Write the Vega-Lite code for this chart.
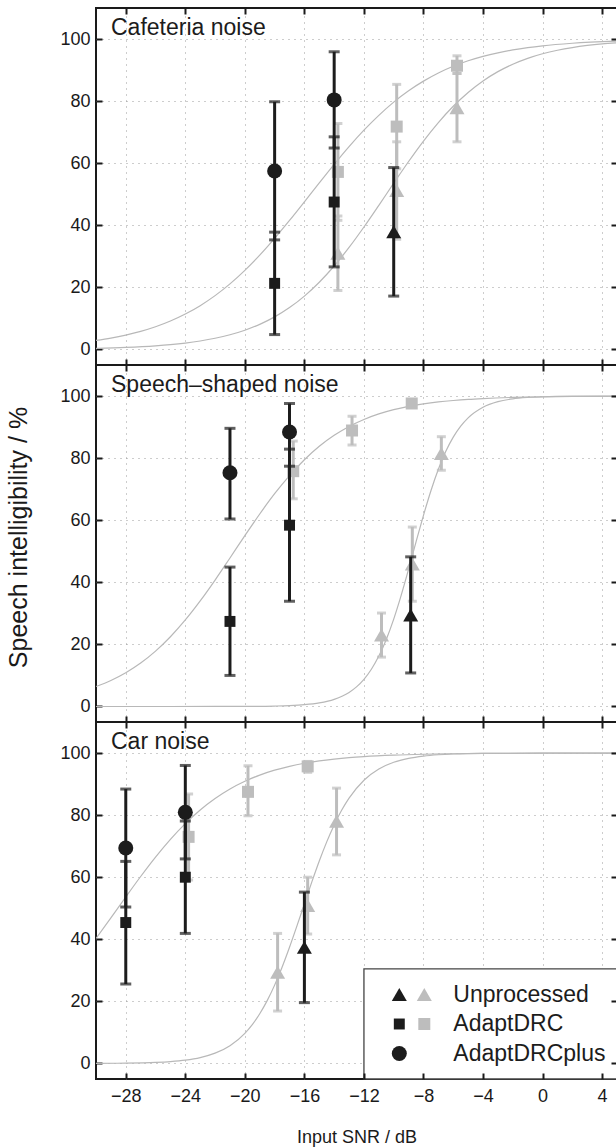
{
  "$schema": "https://vega.github.io/schema/vega-lite/v6.json",
  "background": "white",
  "padding": {"left": 5, "top": 6, "right": -3, "bottom": 0},
  "spacing": 0,
  "bounds": "flush",
  "config": {
    "font": "Liberation Sans",
    "view": {"stroke": "#1a1a1a", "strokeWidth": 2},
    "axis": {
      "domain": false, "tickColor": "#1a1a1a", "tickWidth": 2, "tickSize": -6,
      "labelFont": "Liberation Sans", "labelFontSize": 18, "labelColor": "#1a1a1a",
      "titleFont": "Liberation Sans", "titleFontWeight": "normal", "titleColor": "#1a1a1a",
      "gridColor": "#9a9a9a", "gridDash": [1, 5], "gridWidth": 1
    }
  },
  "datasets": {
    "pts": [
      {"panel": "caf", "grp": "gray", "cond": "Unprocessed", "snr": -13.75, "si": 31, "lo": 19, "hi": 43},
      {"panel": "caf", "grp": "gray", "cond": "AdaptDRC", "snr": -13.75, "si": 57.2, "lo": 41.6, "hi": 72.8},
      {"panel": "caf", "grp": "gray", "cond": "Unprocessed", "snr": -9.8, "si": 51.2, "lo": 35.5, "hi": 66.9},
      {"panel": "caf", "grp": "gray", "cond": "AdaptDRC", "snr": -9.8, "si": 71.8, "lo": 58.2, "hi": 85.4},
      {"panel": "caf", "grp": "gray", "cond": "Unprocessed", "snr": -5.75, "si": 77.9, "lo": 66.9, "hi": 88.9},
      {"panel": "caf", "grp": "gray", "cond": "AdaptDRC", "snr": -5.75, "si": 91.4, "lo": 88.9, "hi": 94.6},
      {"panel": "caf", "grp": "black", "cond": "AdaptDRCplus", "snr": -18, "si": 57.5, "lo": 35.3, "hi": 79.8},
      {"panel": "caf", "grp": "black", "cond": "AdaptDRC", "snr": -18, "si": 21.3, "lo": 4.8, "hi": 37.8},
      {"panel": "caf", "grp": "black", "cond": "AdaptDRCplus", "snr": -14, "si": 80.4, "lo": 64.9, "hi": 95.9},
      {"panel": "caf", "grp": "black", "cond": "AdaptDRC", "snr": -14, "si": 47.5, "lo": 26.6, "hi": 68.5},
      {"panel": "caf", "grp": "black", "cond": "Unprocessed", "snr": -10, "si": 37.9, "lo": 17.2, "hi": 58.6},

      {"panel": "ssn", "grp": "gray", "cond": "AdaptDRC", "snr": -16.75, "si": 75.8, "lo": 66.9, "hi": 85.5},
      {"panel": "ssn", "grp": "gray", "cond": "AdaptDRC", "snr": -12.8, "si": 88.9, "lo": 84.2, "hi": 93.5},
      {"panel": "ssn", "grp": "gray", "cond": "AdaptDRC", "snr": -8.79, "si": 97.6, "lo": 96.5, "hi": 98.7},
      {"panel": "ssn", "grp": "gray", "cond": "Unprocessed", "snr": -10.82, "si": 23, "lo": 15.9, "hi": 30.1},
      {"panel": "ssn", "grp": "gray", "cond": "Unprocessed", "snr": -8.75, "si": 45.9, "lo": 33.9, "hi": 57.8},
      {"panel": "ssn", "grp": "gray", "cond": "Unprocessed", "snr": -6.8, "si": 81.5, "lo": 76.1, "hi": 86.9},
      {"panel": "ssn", "grp": "black", "cond": "AdaptDRCplus", "snr": -21, "si": 75.3, "lo": 60.4, "hi": 89.6},
      {"panel": "ssn", "grp": "black", "cond": "AdaptDRC", "snr": -21, "si": 27.4, "lo": 10, "hi": 44.9},
      {"panel": "ssn", "grp": "black", "cond": "AdaptDRCplus", "snr": -17, "si": 88.4, "lo": 77.4, "hi": 97.6},
      {"panel": "ssn", "grp": "black", "cond": "AdaptDRC", "snr": -17, "si": 58.4, "lo": 33.9, "hi": 82.9},
      {"panel": "ssn", "grp": "black", "cond": "Unprocessed", "snr": -8.86, "si": 29.5, "lo": 10.8, "hi": 48.2},

      {"panel": "car", "grp": "gray", "cond": "AdaptDRC", "snr": -23.78, "si": 73, "lo": 59.1, "hi": 86.8},
      {"panel": "car", "grp": "gray", "cond": "AdaptDRC", "snr": -19.79, "si": 87.5, "lo": 79.8, "hi": 95.9},
      {"panel": "car", "grp": "gray", "cond": "AdaptDRC", "snr": -15.78, "si": 95.7, "lo": 93.8, "hi": 97.3},
      {"panel": "car", "grp": "gray", "cond": "Unprocessed", "snr": -17.8, "si": 29.4, "lo": 16.9, "hi": 41.9},
      {"panel": "car", "grp": "gray", "cond": "Unprocessed", "snr": -15.78, "si": 50.9, "lo": 41.7, "hi": 60},
      {"panel": "car", "grp": "gray", "cond": "Unprocessed", "snr": -13.84, "si": 78, "lo": 67.2, "hi": 88.7},
      {"panel": "car", "grp": "black", "cond": "AdaptDRCplus", "snr": -28, "si": 69.4, "lo": 50.4, "hi": 88.4},
      {"panel": "car", "grp": "black", "cond": "AdaptDRC", "snr": -28, "si": 45.4, "lo": 25.6, "hi": 65.1},
      {"panel": "car", "grp": "black", "cond": "AdaptDRCplus", "snr": -24, "si": 80.9, "lo": 65.9, "hi": 96},
      {"panel": "car", "grp": "black", "cond": "AdaptDRC", "snr": -24, "si": 60, "lo": 41.9, "hi": 78.1},
      {"panel": "car", "grp": "black", "cond": "Unprocessed", "snr": -16, "si": 37.4, "lo": 19.6, "hi": 55.2}
    ],
    "curves": [
      {"panel": "caf", "curve": "A", "snr": -30, "si": 2.90}, {"panel": "caf", "curve": "A", "snr": -29, "si": 3.67},
      {"panel": "caf", "curve": "A", "snr": -28, "si": 4.64}, {"panel": "caf", "curve": "A", "snr": -27, "si": 5.84},
      {"panel": "caf", "curve": "A", "snr": -26, "si": 7.33}, {"panel": "caf", "curve": "A", "snr": -25, "si": 9.17},
      {"panel": "caf", "curve": "A", "snr": -24, "si": 11.42}, {"panel": "caf", "curve": "A", "snr": -23, "si": 14.12},
      {"panel": "caf", "curve": "A", "snr": -22, "si": 17.35}, {"panel": "caf", "curve": "A", "snr": -21, "si": 21.13},
      {"panel": "caf", "curve": "A", "snr": -20, "si": 25.48}, {"panel": "caf", "curve": "A", "snr": -19, "si": 30.38},
      {"panel": "caf", "curve": "A", "snr": -18, "si": 35.78}, {"panel": "caf", "curve": "A", "snr": -17, "si": 41.55},
      {"panel": "caf", "curve": "A", "snr": -16, "si": 47.55}, {"panel": "caf", "curve": "A", "snr": -15, "si": 53.65},
      {"panel": "caf", "curve": "A", "snr": -14, "si": 59.63}, {"panel": "caf", "curve": "A", "snr": -13, "si": 65.34},
      {"panel": "caf", "curve": "A", "snr": -12, "si": 70.64}, {"panel": "caf", "curve": "A", "snr": -11, "si": 75.42},
      {"panel": "caf", "curve": "A", "snr": -10, "si": 79.68}, {"panel": "caf", "curve": "A", "snr": -9, "si": 83.33},
      {"panel": "caf", "curve": "A", "snr": -8, "si": 86.44}, {"panel": "caf", "curve": "A", "snr": -7, "si": 89.07},
      {"panel": "caf", "curve": "A", "snr": -6, "si": 91.22}, {"panel": "caf", "curve": "A", "snr": -5, "si": 92.99},
      {"panel": "caf", "curve": "A", "snr": -4, "si": 94.42}, {"panel": "caf", "curve": "A", "snr": -3, "si": 95.57},
      {"panel": "caf", "curve": "A", "snr": -2, "si": 96.50}, {"panel": "caf", "curve": "A", "snr": -1, "si": 97.24},
      {"panel": "caf", "curve": "A", "snr": 0, "si": 97.83}, {"panel": "caf", "curve": "A", "snr": 2, "si": 98.65},
      {"panel": "caf", "curve": "A", "snr": 5, "si": 99.35},

      {"panel": "caf", "curve": "B", "snr": -30, "si": 0.38}, {"panel": "caf", "curve": "B", "snr": -28, "si": 0.67},
      {"panel": "caf", "curve": "B", "snr": -26, "si": 1.18}, {"panel": "caf", "curve": "B", "snr": -25, "si": 1.56},
      {"panel": "caf", "curve": "B", "snr": -24, "si": 2.07}, {"panel": "caf", "curve": "B", "snr": -23, "si": 2.74},
      {"panel": "caf", "curve": "B", "snr": -22, "si": 3.61}, {"panel": "caf", "curve": "B", "snr": -21, "si": 4.74},
      {"panel": "caf", "curve": "B", "snr": -20, "si": 6.21}, {"panel": "caf", "curve": "B", "snr": -19, "si": 8.10},
      {"panel": "caf", "curve": "B", "snr": -18, "si": 10.50}, {"panel": "caf", "curve": "B", "snr": -17, "si": 13.50},
      {"panel": "caf", "curve": "B", "snr": -16, "si": 17.20}, {"panel": "caf", "curve": "B", "snr": -15, "si": 21.66},
      {"panel": "caf", "curve": "B", "snr": -14, "si": 26.89}, {"panel": "caf", "curve": "B", "snr": -13, "si": 32.86},
      {"panel": "caf", "curve": "B", "snr": -12, "si": 39.45}, {"panel": "caf", "curve": "B", "snr": -11, "si": 46.44},
      {"panel": "caf", "curve": "B", "snr": -10, "si": 53.56}, {"panel": "caf", "curve": "B", "snr": -9, "si": 60.55},
      {"panel": "caf", "curve": "B", "snr": -8, "si": 67.14}, {"panel": "caf", "curve": "B", "snr": -7, "si": 73.11},
      {"panel": "caf", "curve": "B", "snr": -6, "si": 78.34}, {"panel": "caf", "curve": "B", "snr": -5, "si": 82.80},
      {"panel": "caf", "curve": "B", "snr": -4, "si": 86.50}, {"panel": "caf", "curve": "B", "snr": -3, "si": 89.50},
      {"panel": "caf", "curve": "B", "snr": -2, "si": 91.90}, {"panel": "caf", "curve": "B", "snr": -1, "si": 93.79},
      {"panel": "caf", "curve": "B", "snr": 0, "si": 95.26}, {"panel": "caf", "curve": "B", "snr": 1, "si": 96.39},
      {"panel": "caf", "curve": "B", "snr": 2, "si": 97.26}, {"panel": "caf", "curve": "B", "snr": 3, "si": 97.93},
      {"panel": "caf", "curve": "B", "snr": 4, "si": 98.44}, {"panel": "caf", "curve": "B", "snr": 5, "si": 98.82},

      {"panel": "ssn", "curve": "A", "snr": -30, "si": 6.42}, {"panel": "ssn", "curve": "A", "snr": -29, "si": 8.38},
      {"panel": "ssn", "curve": "A", "snr": -28, "si": 10.87}, {"panel": "ssn", "curve": "A", "snr": -27, "si": 13.99},
      {"panel": "ssn", "curve": "A", "snr": -26, "si": 17.84}, {"panel": "ssn", "curve": "A", "snr": -25, "si": 22.46},
      {"panel": "ssn", "curve": "A", "snr": -24, "si": 27.87}, {"panel": "ssn", "curve": "A", "snr": -23, "si": 34.01},
      {"panel": "ssn", "curve": "A", "snr": -22, "si": 40.73}, {"panel": "ssn", "curve": "A", "snr": -21, "si": 47.84},
      {"panel": "ssn", "curve": "A", "snr": -20, "si": 55.03}, {"panel": "ssn", "curve": "A", "snr": -19, "si": 62.01},
      {"panel": "ssn", "curve": "A", "snr": -18, "si": 68.53}, {"panel": "ssn", "curve": "A", "snr": -17, "si": 74.38},
      {"panel": "ssn", "curve": "A", "snr": -16, "si": 79.48}, {"panel": "ssn", "curve": "A", "snr": -15, "si": 83.80},
      {"panel": "ssn", "curve": "A", "snr": -14, "si": 87.34}, {"panel": "ssn", "curve": "A", "snr": -13, "si": 90.20},
      {"panel": "ssn", "curve": "A", "snr": -12, "si": 92.46}, {"panel": "ssn", "curve": "A", "snr": -11, "si": 94.24},
      {"panel": "ssn", "curve": "A", "snr": -10, "si": 95.62}, {"panel": "ssn", "curve": "A", "snr": -9, "si": 96.68},
      {"panel": "ssn", "curve": "A", "snr": -8, "si": 97.49}, {"panel": "ssn", "curve": "A", "snr": -7, "si": 98.11},
      {"panel": "ssn", "curve": "A", "snr": -6, "si": 98.57}, {"panel": "ssn", "curve": "A", "snr": -5, "si": 98.93},
      {"panel": "ssn", "curve": "A", "snr": -4, "si": 99.19}, {"panel": "ssn", "curve": "A", "snr": -2, "si": 99.55},
      {"panel": "ssn", "curve": "A", "snr": 0, "si": 99.74}, {"panel": "ssn", "curve": "A", "snr": 2, "si": 99.86},
      {"panel": "ssn", "curve": "A", "snr": 5, "si": 99.94},

      {"panel": "ssn", "curve": "B", "snr": -30, "si": 0}, {"panel": "ssn", "curve": "B", "snr": -25, "si": 0},
      {"panel": "ssn", "curve": "B", "snr": -22, "si": 0.01}, {"panel": "ssn", "curve": "B", "snr": -20, "si": 0.03},
      {"panel": "ssn", "curve": "B", "snr": -18, "si": 0.14}, {"panel": "ssn", "curve": "B", "snr": -17, "si": 0.28},
      {"panel": "ssn", "curve": "B", "snr": -16, "si": 0.57}, {"panel": "ssn", "curve": "B", "snr": -15, "si": 1.15},
      {"panel": "ssn", "curve": "B", "snr": -14, "si": 2.29}, {"panel": "ssn", "curve": "B", "snr": -13, "si": 4.52},
      {"panel": "ssn", "curve": "B", "snr": -12.5, "si": 6.31}, {"panel": "ssn", "curve": "B", "snr": -12, "si": 8.75},
      {"panel": "ssn", "curve": "B", "snr": -11.5, "si": 11.99}, {"panel": "ssn", "curve": "B", "snr": -11, "si": 16.23},
      {"panel": "ssn", "curve": "B", "snr": -10.5, "si": 21.60}, {"panel": "ssn", "curve": "B", "snr": -10, "si": 28.15},
      {"panel": "ssn", "curve": "B", "snr": -9.5, "si": 35.78}, {"panel": "ssn", "curve": "B", "snr": -9, "si": 44.22},
      {"panel": "ssn", "curve": "B", "snr": -8.5, "si": 53.0}, {"panel": "ssn", "curve": "B", "snr": -8, "si": 61.58},
      {"panel": "ssn", "curve": "B", "snr": -7.5, "si": 69.51}, {"panel": "ssn", "curve": "B", "snr": -7, "si": 76.42},
      {"panel": "ssn", "curve": "B", "snr": -6.5, "si": 82.18}, {"panel": "ssn", "curve": "B", "snr": -6, "si": 86.76},
      {"panel": "ssn", "curve": "B", "snr": -5.5, "si": 90.31}, {"panel": "ssn", "curve": "B", "snr": -5, "si": 92.99},
      {"panel": "ssn", "curve": "B", "snr": -4, "si": 96.40}, {"panel": "ssn", "curve": "B", "snr": -3, "si": 98.19},
      {"panel": "ssn", "curve": "B", "snr": -2, "si": 99.10}, {"panel": "ssn", "curve": "B", "snr": -1, "si": 99.55},
      {"panel": "ssn", "curve": "B", "snr": 0, "si": 99.78}, {"panel": "ssn", "curve": "B", "snr": 2, "si": 99.95},
      {"panel": "ssn", "curve": "B", "snr": 5, "si": 99.99},

      {"panel": "car", "curve": "A", "snr": -30, "si": 40.29}, {"panel": "car", "curve": "A", "snr": -29, "si": 46.9},
      {"panel": "car", "curve": "A", "snr": -28, "si": 53.63}, {"panel": "car", "curve": "A", "snr": -27, "si": 60.23},
      {"panel": "car", "curve": "A", "snr": -26, "si": 66.48}, {"panel": "car", "curve": "A", "snr": -25, "si": 72.20},
      {"panel": "car", "curve": "A", "snr": -24, "si": 77.27}, {"panel": "car", "curve": "A", "snr": -23, "si": 81.66},
      {"panel": "car", "curve": "A", "snr": -22, "si": 85.35}, {"panel": "car", "curve": "A", "snr": -21, "si": 88.42},
      {"panel": "car", "curve": "A", "snr": -20, "si": 90.91}, {"panel": "car", "curve": "A", "snr": -19, "si": 92.90},
      {"panel": "car", "curve": "A", "snr": -18, "si": 94.48}, {"panel": "car", "curve": "A", "snr": -17, "si": 95.73},
      {"panel": "car", "curve": "A", "snr": -16, "si": 96.71}, {"panel": "car", "curve": "A", "snr": -15, "si": 97.47},
      {"panel": "car", "curve": "A", "snr": -14, "si": 98.05}, {"panel": "car", "curve": "A", "snr": -13, "si": 98.51},
      {"panel": "car", "curve": "A", "snr": -12, "si": 98.86}, {"panel": "car", "curve": "A", "snr": -10, "si": 99.33},
      {"panel": "car", "curve": "A", "snr": -8, "si": 99.61}, {"panel": "car", "curve": "A", "snr": -6, "si": 99.77},
      {"panel": "car", "curve": "A", "snr": -4, "si": 99.87}, {"panel": "car", "curve": "A", "snr": 0, "si": 99.95},
      {"panel": "car", "curve": "A", "snr": 5, "si": 99.99},

      {"panel": "car", "curve": "B", "snr": -30, "si": 0.04}, {"panel": "car", "curve": "B", "snr": -28, "si": 0.11},
      {"panel": "car", "curve": "B", "snr": -26, "si": 0.35}, {"panel": "car", "curve": "B", "snr": -25, "si": 0.62},
      {"panel": "car", "curve": "B", "snr": -24, "si": 1.08}, {"panel": "car", "curve": "B", "snr": -23, "si": 1.90},
      {"panel": "car", "curve": "B", "snr": -22, "si": 3.32}, {"panel": "car", "curve": "B", "snr": -21, "si": 5.73},
      {"panel": "car", "curve": "B", "snr": -20, "si": 9.72}, {"panel": "car", "curve": "B", "snr": -19.5, "si": 12.53},
      {"panel": "car", "curve": "B", "snr": -19, "si": 16.02}, {"panel": "car", "curve": "B", "snr": -18.5, "si": 20.24},
      {"panel": "car", "curve": "B", "snr": -18, "si": 25.24}, {"panel": "car", "curve": "B", "snr": -17.5, "si": 31.0},
      {"panel": "car", "curve": "B", "snr": -17, "si": 37.43}, {"panel": "car", "curve": "B", "snr": -16.5, "si": 44.31},
      {"panel": "car", "curve": "B", "snr": -16, "si": 51.43}, {"panel": "car", "curve": "B", "snr": -15.5, "si": 58.49},
      {"panel": "car", "curve": "B", "snr": -15, "si": 65.22}, {"panel": "car", "curve": "B", "snr": -14.5, "si": 71.39},
      {"panel": "car", "curve": "B", "snr": -14, "si": 76.85}, {"panel": "car", "curve": "B", "snr": -13.5, "si": 81.55},
      {"panel": "car", "curve": "B", "snr": -13, "si": 85.46}, {"panel": "car", "curve": "B", "snr": -12, "si": 91.23},
      {"panel": "car", "curve": "B", "snr": -11, "si": 94.85}, {"panel": "car", "curve": "B", "snr": -10, "si": 97.03},
      {"panel": "car", "curve": "B", "snr": -9, "si": 98.30}, {"panel": "car", "curve": "B", "snr": -8, "si": 99.03},
      {"panel": "car", "curve": "B", "snr": -7, "si": 99.45}, {"panel": "car", "curve": "B", "snr": -6, "si": 99.69},
      {"panel": "car", "curve": "B", "snr": -4, "si": 99.90}, {"panel": "car", "curve": "B", "snr": 0, "si": 99.99},
      {"panel": "car", "curve": "B", "snr": 5, "si": 100}
    ]
  },
  "vconcat": [
    {
      "width": 521, "height": 357,
      "layer": [
        {"data": {"name": "curves"}, "transform": [{"filter": {"field": "panel", "equal": "caf"}}],
         "mark": {"type": "line", "color": "#b8b8b8", "strokeWidth": 1.2, "interpolate": "monotone", "clip": true},
         "encoding": {
           "x": {"field": "snr", "type": "quantitative", "scale": {"domain": [-30, 5], "nice": false, "zero": false},
                 "axis": {"orient": "top", "values": [-28, -24, -20, -16, -12, -8, -4, 0, 4], "labels": false, "title": null, "grid": true, "zindex": 0}},
           "y": {"field": "si", "type": "quantitative", "scale": {"domain": [-5, 110], "nice": false, "zero": false},
                 "axis": {"orient": "left", "values": [0, 20, 40, 60, 80, 100], "grid": true, "title": null, "labelPadding": 12, "zindex": 0}},
           "detail": {"field": "curve"}}},
        {"data": {"name": "pts"}, "transform": [{"filter": "datum.panel === 'caf' && datum.grp === 'gray'"}],
         "mark": {"type": "errorbar", "color": "#bdbdbd", "thickness": 3, "ticks": {"size": 9, "thickness": 3}},
         "encoding": {
           "x": {"field": "snr", "type": "quantitative", "scale": {"domain": [-30, 5], "nice": false, "zero": false},
                 "axis": {"orient": "bottom", "values": [-28, -24, -20, -16, -12, -8, -4, 0, 4], "labels": false, "title": null, "grid": false, "zindex": 1}},
           "y": {"field": "lo", "type": "quantitative", "scale": {"domain": [-5, 110], "nice": false, "zero": false},
                 "axis": {"orient": "right", "values": [0, 20, 40, 60, 80, 100], "labels": false, "title": null, "grid": false, "zindex": 1}},
           "y2": {"field": "hi"}}},
        {"data": {"name": "pts"}, "transform": [{"filter": "datum.panel === 'caf' && datum.grp === 'gray'"}],
         "mark": {"type": "point", "filled": true, "opacity": 1, "size": 225, "color": "#bdbdbd"},
         "encoding": {
           "x": {"field": "snr", "type": "quantitative", "axis": null},
           "y": {"field": "si", "type": "quantitative", "axis": null},
           "shape": {"field": "cond", "type": "nominal", "scale": {"domain": ["Unprocessed", "AdaptDRC"], "range": ["triangle-up", "M-0.8,-0.8H0.8V0.8H-0.8Z"]}, "legend": null}}},
        {"data": {"name": "pts"}, "transform": [{"filter": "datum.panel === 'caf' && datum.grp === 'black'"}],
         "mark": {"type": "errorbar", "color": "#1c1c1c", "thickness": 3, "ticks": {"size": 11, "thickness": 3}},
         "encoding": {
           "x": {"field": "snr", "type": "quantitative", "axis": null},
           "y": {"field": "lo", "type": "quantitative", "axis": null},
           "y2": {"field": "hi"}}},
        {"data": {"name": "pts"}, "transform": [{"filter": "datum.panel === 'caf' && datum.grp === 'black'"}],
         "mark": {"type": "point", "filled": true, "opacity": 1, "size": 225, "color": "#1c1c1c"},
         "encoding": {
           "x": {"field": "snr", "type": "quantitative", "axis": null},
           "y": {"field": "si", "type": "quantitative", "axis": null},
           "shape": {"field": "cond", "type": "nominal", "scale": {"domain": ["Unprocessed", "AdaptDRC", "AdaptDRCplus"], "range": ["triangle-up", "M-0.73,-0.73H0.73V0.73H-0.73Z", "circle"]}, "legend": null}}},
        {"data": {"values": [{"label": "Cafeteria noise"}]},
         "mark": {"type": "text", "align": "left", "baseline": "alphabetic", "dx": 15, "dy": 27, "fontSize": 23, "color": "#1c1c1c"},
         "encoding": {"x": {"datum": -30, "axis": null}, "y": {"datum": 110, "axis": null}, "text": {"field": "label"}}}
      ],
      "resolve": {"axis": {"x": "independent", "y": "independent"}, "scale": {"shape": "independent"}}
    },
    {
      "width": 521, "height": 357,
      "layer": [
        {"data": {"name": "curves"}, "transform": [{"filter": {"field": "panel", "equal": "ssn"}}],
         "mark": {"type": "line", "color": "#b8b8b8", "strokeWidth": 1.2, "interpolate": "monotone", "clip": true},
         "encoding": {
           "x": {"field": "snr", "type": "quantitative", "scale": {"domain": [-30, 5], "nice": false, "zero": false},
                 "axis": {"orient": "top", "values": [-28, -24, -20, -16, -12, -8, -4, 0, 4], "labels": false, "title": null, "grid": true, "zindex": 0}},
           "y": {"field": "si", "type": "quantitative", "scale": {"domain": [-5, 110], "nice": false, "zero": false},
                 "axis": {"orient": "left", "values": [0, 20, 40, 60, 80, 100], "grid": true, "labelPadding": 12, "zindex": 0,
                          "title": "Speech intelligibility / %", "titleFontSize": 25, "titleAngle": 270, "titleX": -78, "titleY": 172, "titleAlign": "center", "titleBaseline": "middle"}},
           "detail": {"field": "curve"}}},
        {"data": {"name": "pts"}, "transform": [{"filter": "datum.panel === 'ssn' && datum.grp === 'gray'"}],
         "mark": {"type": "errorbar", "color": "#bdbdbd", "thickness": 3, "ticks": {"size": 9, "thickness": 3}},
         "encoding": {
           "x": {"field": "snr", "type": "quantitative", "scale": {"domain": [-30, 5], "nice": false, "zero": false},
                 "axis": {"orient": "bottom", "values": [-28, -24, -20, -16, -12, -8, -4, 0, 4], "labels": false, "title": null, "grid": false, "zindex": 1}},
           "y": {"field": "lo", "type": "quantitative", "scale": {"domain": [-5, 110], "nice": false, "zero": false},
                 "axis": {"orient": "right", "values": [0, 20, 40, 60, 80, 100], "labels": false, "title": null, "grid": false, "zindex": 1}},
           "y2": {"field": "hi"}}},
        {"data": {"name": "pts"}, "transform": [{"filter": "datum.panel === 'ssn' && datum.grp === 'gray'"}],
         "mark": {"type": "point", "filled": true, "opacity": 1, "size": 225, "color": "#bdbdbd"},
         "encoding": {
           "x": {"field": "snr", "type": "quantitative", "axis": null},
           "y": {"field": "si", "type": "quantitative", "axis": null},
           "shape": {"field": "cond", "type": "nominal", "scale": {"domain": ["Unprocessed", "AdaptDRC"], "range": ["triangle-up", "M-0.8,-0.8H0.8V0.8H-0.8Z"]}, "legend": null}}},
        {"data": {"name": "pts"}, "transform": [{"filter": "datum.panel === 'ssn' && datum.grp === 'black'"}],
         "mark": {"type": "errorbar", "color": "#1c1c1c", "thickness": 3, "ticks": {"size": 11, "thickness": 3}},
         "encoding": {
           "x": {"field": "snr", "type": "quantitative", "axis": null},
           "y": {"field": "lo", "type": "quantitative", "axis": null},
           "y2": {"field": "hi"}}},
        {"data": {"name": "pts"}, "transform": [{"filter": "datum.panel === 'ssn' && datum.grp === 'black'"}],
         "mark": {"type": "point", "filled": true, "opacity": 1, "size": 225, "color": "#1c1c1c"},
         "encoding": {
           "x": {"field": "snr", "type": "quantitative", "axis": null},
           "y": {"field": "si", "type": "quantitative", "axis": null},
           "shape": {"field": "cond", "type": "nominal", "scale": {"domain": ["Unprocessed", "AdaptDRC", "AdaptDRCplus"], "range": ["triangle-up", "M-0.73,-0.73H0.73V0.73H-0.73Z", "circle"]}, "legend": null}}},
        {"data": {"values": [{"label": "Speech–shaped noise"}]},
         "mark": {"type": "text", "align": "left", "baseline": "alphabetic", "dx": 15, "dy": 27, "fontSize": 23, "color": "#1c1c1c"},
         "encoding": {"x": {"datum": -30, "axis": null}, "y": {"datum": 110, "axis": null}, "text": {"field": "label"}}}
      ],
      "resolve": {"axis": {"x": "independent", "y": "independent"}, "scale": {"shape": "independent"}}
    },
    {
      "width": 521, "height": 357,
      "layer": [
        {"data": {"name": "curves"}, "transform": [{"filter": {"field": "panel", "equal": "car"}}],
         "mark": {"type": "line", "color": "#b8b8b8", "strokeWidth": 1.2, "interpolate": "monotone", "clip": true},
         "encoding": {
           "x": {"field": "snr", "type": "quantitative", "scale": {"domain": [-30, 5], "nice": false, "zero": false},
                 "axis": {"orient": "top", "values": [-28, -24, -20, -16, -12, -8, -4, 0, 4], "labels": false, "title": null, "grid": true, "zindex": 0}},
           "y": {"field": "si", "type": "quantitative", "scale": {"domain": [-5, 110], "nice": false, "zero": false},
                 "axis": {"orient": "left", "values": [0, 20, 40, 60, 80, 100], "grid": true, "title": null, "labelPadding": 12, "zindex": 0}},
           "detail": {"field": "curve"}}},
        {"data": {"values": [{}]},
         "mark": {"type": "rect", "fill": "white", "stroke": "#444444", "strokeWidth": 1.3},
         "encoding": {
           "x": {"datum": -12, "type": "quantitative", "scale": {"domain": [-30, 5], "nice": false, "zero": false},
                 "axis": {"orient": "bottom", "values": [-28, -24, -20, -16, -12, -8, -4, 0, 4], "labelPadding": 14, "zindex": 1,
                          "title": "Input SNR / dB", "titleFontSize": 18, "titleY": 63, "titleBaseline": "alphabetic"}},
           "x2": {"datum": 5},
           "y": {"datum": -5, "type": "quantitative", "scale": {"domain": [-5, 110], "nice": false, "zero": false},
                 "axis": {"orient": "right", "values": [0, 20, 40, 60, 80, 100], "labels": false, "title": null, "grid": false, "zindex": 1}},
           "y2": {"datum": 30.5}}},
        {"data": {"name": "pts"}, "transform": [{"filter": "datum.panel === 'car' && datum.grp === 'gray'"}],
         "mark": {"type": "errorbar", "color": "#bdbdbd", "thickness": 3, "ticks": {"size": 9, "thickness": 3}},
         "encoding": {
           "x": {"field": "snr", "type": "quantitative", "axis": null},
           "y": {"field": "lo", "type": "quantitative", "axis": null},
           "y2": {"field": "hi"}}},
        {"data": {"name": "pts"}, "transform": [{"filter": "datum.panel === 'car' && datum.grp === 'gray'"}],
         "mark": {"type": "point", "filled": true, "opacity": 1, "size": 225, "color": "#bdbdbd"},
         "encoding": {
           "x": {"field": "snr", "type": "quantitative", "axis": null},
           "y": {"field": "si", "type": "quantitative", "axis": null},
           "shape": {"field": "cond", "type": "nominal", "scale": {"domain": ["Unprocessed", "AdaptDRC"], "range": ["triangle-up", "M-0.8,-0.8H0.8V0.8H-0.8Z"]},
                     "legend": {"orient": "none", "legendX": 316.8, "legendY": 261, "title": null, "padding": 0, "labelFontSize": 23, "labelOffset": 42.5, "rowPadding": 5.5,
                                "symbolSize": 225, "symbolFillColor": "#bdbdbd", "symbolStrokeWidth": 0, "labelExpr": "''"}}}},
        {"data": {"name": "pts"}, "transform": [{"filter": "datum.panel === 'car' && datum.grp === 'black'"}],
         "mark": {"type": "errorbar", "color": "#1c1c1c", "thickness": 3, "ticks": {"size": 11, "thickness": 3}},
         "encoding": {
           "x": {"field": "snr", "type": "quantitative", "axis": null},
           "y": {"field": "lo", "type": "quantitative", "axis": null},
           "y2": {"field": "hi"}}},
        {"data": {"name": "pts"}, "transform": [{"filter": "datum.panel === 'car' && datum.grp === 'black'"}],
         "mark": {"type": "point", "filled": true, "opacity": 1, "size": 225, "color": "#1c1c1c"},
         "encoding": {
           "x": {"field": "snr", "type": "quantitative", "axis": null},
           "y": {"field": "si", "type": "quantitative", "axis": null},
           "shape": {"field": "cond", "type": "nominal", "scale": {"domain": ["Unprocessed", "AdaptDRC", "AdaptDRCplus"], "range": ["triangle-up", "M-0.73,-0.73H0.73V0.73H-0.73Z", "circle"]},
                     "legend": {"orient": "none", "legendX": 291.8, "legendY": 261, "title": null, "padding": 0, "labelFontSize": 23, "labelOffset": 42.5, "rowPadding": 5.5,
                                "symbolSize": 225, "symbolFillColor": "#1c1c1c", "symbolStrokeWidth": 0, "labelColor": "#1c1c1c", "labelFont": "Liberation Sans"}}}},
        {"data": {"values": [{"label": "Car noise"}]},
         "mark": {"type": "text", "align": "left", "baseline": "alphabetic", "dx": 15, "dy": 27, "fontSize": 23, "color": "#1c1c1c"},
         "encoding": {"x": {"datum": -30, "axis": null}, "y": {"datum": 110, "axis": null}, "text": {"field": "label"}}}
      ],
      "resolve": {"axis": {"x": "independent", "y": "independent"}, "scale": {"shape": "independent"}, "legend": {"shape": "independent"}}
    }
  ]
}
